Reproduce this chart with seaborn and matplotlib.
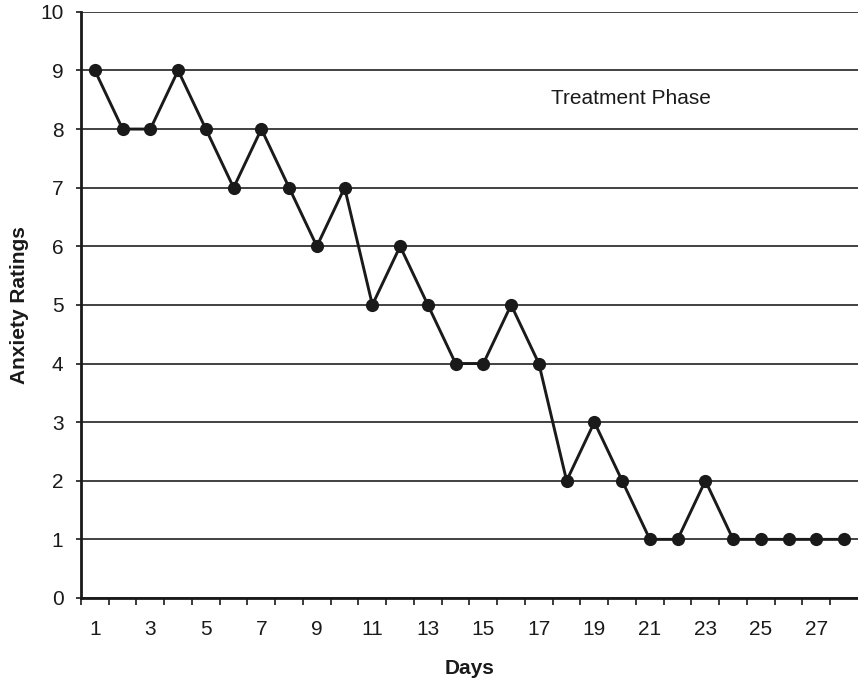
import pandas as pd
import seaborn as sns
from matplotlib import pyplot as plt

days = list(range(1, 29))
ratings = [9, 8, 8, 9, 8, 7, 8, 7, 6, 7, 5, 6, 5, 4, 4, 5, 4, 2, 3, 2,
           1, 1, 2, 1, 1, 1, 1, 1]
day_labels = [str(d) for d in range(1, 29, 2)]
y_ticks = list(range(0, 11))

df = pd.DataFrame({"Days": days, "Anxiety Ratings": ratings})

sns.set_style("white")
plt.rcParams['font.family'] = ['Liberation Sans', 'DejaVu Sans']

fig = plt.figure(figsize=(8.58, 6.8), dpi=100)
ax = fig.add_axes([0.0944, 0.1206, 0.9056, 0.862])

ax.set_yticks(y_ticks)
ax.yaxis.grid(True, color="#333333", linewidth=1.3)
ax.set_axisbelow(True)

sns.lineplot(data=df, x="Days", y="Anxiety Ratings", ax=ax, color="#1a1a1a",
             linewidth=2.1, marker="o", markersize=9.5, markeredgewidth=0)

ax.set_xlim(0.5, 28.5)
ax.set_ylim(0, 10)

# ticks between days, labels on odd days
ax.set_xticks([d + 0.5 for d in range(0, 28)])
ax.set_xticklabels([])
ax.set_xticks(range(1, 29, 2), minor=True)
ax.set_xticklabels(day_labels, minor=True)
ax.tick_params(axis="x", which="major", direction="out", length=5, width=1.2,
               color="#1a1a1a", bottom=True)
ax.tick_params(axis="x", which="minor", length=0, pad=16, labelsize=15,
               labelcolor="#1a1a1a")
ax.tick_params(axis="y", direction="out", length=3.6, width=1.2, color="#1a1a1a",
               left=True, labelsize=15, pad=9, labelcolor="#1a1a1a")

for side in ["top", "right"]:
    ax.spines[side].set_visible(False)
for side in ["left", "bottom"]:
    ax.spines[side].set_color("#1a1a1a")
    ax.spines[side].set_linewidth(2)

ax.set_xlabel("Days", fontsize=15, fontweight="bold", labelpad=14,
              color="#1a1a1a")
ax.set_ylabel("Anxiety Ratings", fontsize=15, fontweight="bold", labelpad=8,
              color="#1a1a1a")

ax.text(20.3, 8.52, "Treatment Phase", fontsize=15, ha="center", va="center",
        color="#1a1a1a")

fig.savefig("out.png", dpi=100)
